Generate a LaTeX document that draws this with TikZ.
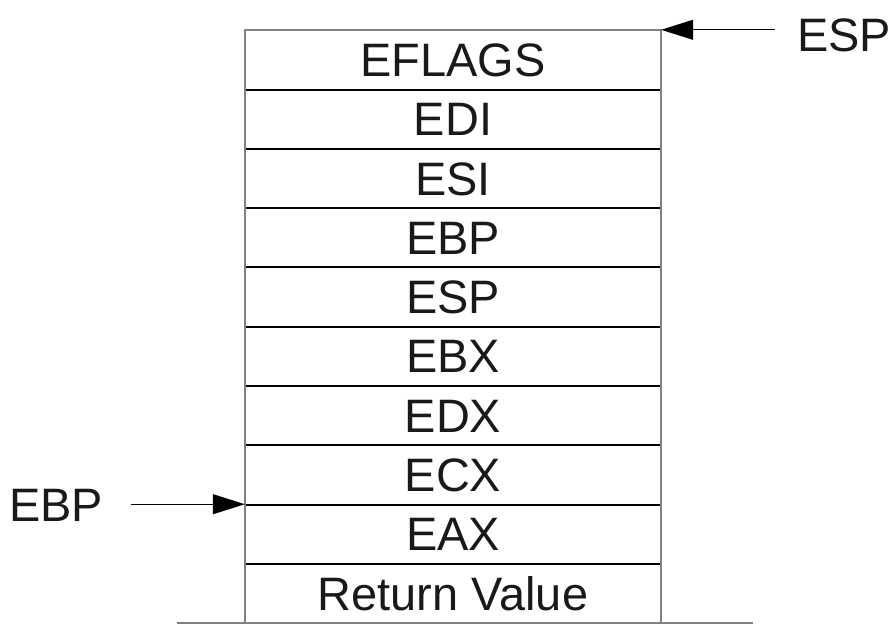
\documentclass[tikz,border=0pt]{standalone}
\usepackage{fontspec}
\setmainfont{Liberation Sans}
\usetikzlibrary{arrows.meta}
\begin{document}
\begin{tikzpicture}[x=1pt,y=-1pt,
  cell/.style={minimum width=416pt, minimum height=59.3pt, inner sep=0pt,
    font=\fontsize{46.9}{50}\selectfont, text=black!90,
    text height=33.6pt, text depth=0pt},
  tag/.style={font=\fontsize{46.9}{50}\selectfont, text=black!90, inner sep=0pt,
    text height=33.6pt, text depth=0pt},
  divider/.style={line width=2pt, black},
  frame/.style={line width=2pt, black!50},
  pointer/.style={line width=1.1pt, black, -{Triangle[length=32pt,width=20pt]}}
]
\useasboundingbox (0,0) rectangle (893,625);
% stack cells, top to bottom
\foreach \n/\t [count=\i from 0] in {r1/EFLAGS,r2/EDI,r3/ESI,r4/EBP,r5/ESP,r6/EBX,r7/EDX,r8/ECX,r9/EAX,r10/Return Value}
  \node[cell] (\n) at (453, 30+29.65+59.3*\i) {\t};
% dividers between cells
\foreach \a/\b in {r1/r2,r2/r3,r3/r4,r4/r5,r5/r6,r6/r7,r7/r8,r8/r9,r9/r10}
  \draw[divider] (\a.south west) -- (\a.south east);
% outer frame and base line
\draw[frame] (r10.south west) -- (r1.north west) -- (r1.north east) -- (r10.south east);
\coordinate (baseL) at ([xshift=-68pt]r10.south west);
\coordinate (baseR) at ([xshift=92pt]r10.south east);
\draw[frame] (baseL) -- (baseR);
% stack pointers
\node[tag] (esp) at (844,35) {ESP};
\node[tag] (ebp) at (56,505) {EBP};
\coordinate (espfrom) at ([xshift=114pt]r1.north east);
\coordinate (ebpfrom) at ([xshift=-114pt]r9.north west);
\draw[pointer] (espfrom) -- (r1.north east);
\draw[pointer] (ebpfrom) -- (r9.north west);
\end{tikzpicture}
\end{document}
